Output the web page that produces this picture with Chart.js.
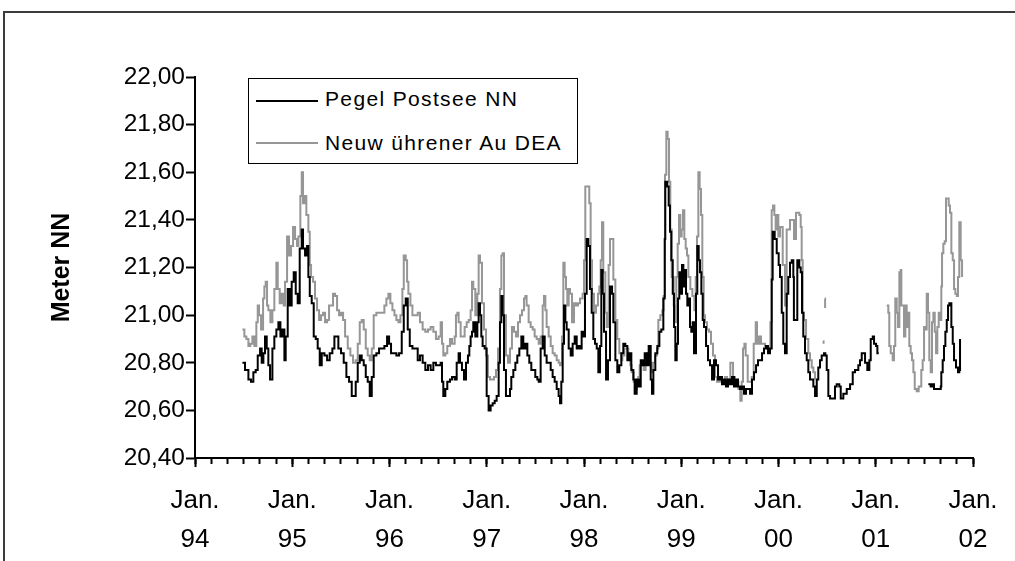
<!DOCTYPE html>
<html>
<head>
<meta charset="utf-8">
<script src="https://cdn.jsdelivr.net/npm/chart.js@4.4.1/dist/chart.umd.min.js"></script>
<style>
  html, body { margin: 0; padding: 0; background: #fff; }
  #wrap { position: relative; width: 1015px; height: 561px; overflow: hidden; background: #fff; }
  #frame { position: absolute; left: 3px; top: 11px; width: 1100px; height: 700px;
           border-top: 2px solid #3c3c3c; border-left: 2px solid #3c3c3c; }
  #c { position: absolute; left: 0; top: 0; }
  #legend { position: absolute; left: 248px; top: 78px; width: 330px; height: 86px;
            box-sizing: border-box; border: 1px solid #000; background: #fff;
            font-family: "Liberation Sans", Arial, sans-serif; font-size: 21px; color: #000; }
  .lline { position: absolute; left: 7px; width: 62px; height: 2px; }
  .ltext { position: absolute; left: 76px; line-height: 24px; white-space: pre; letter-spacing: 1.35px; }
</style>
</head>
<body>
<div id="wrap">
  <div id="frame"></div>
  <canvas id="c" width="1015" height="561"></canvas>
  <div id="legend">
    <div class="lline" style="top:20.7px;background:#000"></div>
    <div class="ltext" style="top:8.4px">Pegel Postsee NN</div>
    <div class="lline" style="top:63.3px;background:#969696"></div>
    <div class="ltext" style="top:51.7px">Neuw ührener Au DEA</div>
  </div>
</div>
<script>
// x values: months since January 1994; y values: water level in metres NN
const seriesNames = ['Pegel Postsee NN', 'Neuw ührener Au DEA'];
const yearLabels = ['94', '95', '96', '97', '98', '99', '00', '01', '02'];
const yTicks = [20.40, 20.60, 20.80, 21.00, 21.20, 21.40, 21.60, 21.80, 22.00];

const pegelMonths = [
  5.85,6.17,6.59,6.91,7.20,7.49,7.74,8.03,8.23,8.44,8.64,8.85,9.05,9.26,9.55,9.79,10.04,10.29,10.54,10.78,
  11.03,11.19,11.44,11.69,11.93,12.18,12.43,12.67,12.92,13.17,13.33,13.58,13.83,13.99,14.16,14.40,14.65,14.90,15.14,15.39,
  15.64,15.97,16.30,16.62,16.95,17.20,17.45,17.69,18.02,18.35,18.68,19.01,19.34,19.59,19.83,20.08,20.33,20.57,20.82,21.07,
  21.31,21.56,21.81,22.05,22.38,22.71,23.04,23.37,23.70,23.95,24.19,24.52,24.85,25.18,25.51,25.76,26.00,26.25,26.50,26.83,
  27.16,27.48,
  27.76,28.09,28.42,28.75,29.08,29.41,29.73,30.06,30.31,30.48,30.64,30.89,31.13,31.46,31.71,32.04,32.29,32.53,32.70,32.94,
  33.19,33.44,33.68,33.85,34.01,34.18,34.34,34.59,34.84,35.00,35.17,35.33,35.49,35.74,35.99,36.23,36.48,36.73,36.98,37.22,
  37.47,37.63,37.80,37.96,38.13,38.37,38.62,38.87,39.03,39.28,39.53,39.77,40.02,40.27,40.51,40.76,41.01,41.25,41.50,41.75,
  41.99,42.24,42.41,42.65,42.90,43.15,43.39,43.64,43.89,44.13,44.38,44.63,44.87,45.04,45.20,45.37,45.53,45.70,45.86,46.11,
  46.36,46.60,46.85,47.10,47.34,
  47.51,47.71,47.91,48.12,48.33,48.53,48.74,48.95,49.15,49.36,49.57,49.77,49.98,50.14,50.31,50.47,50.72,50.96,51.21,51.46,
  51.62,51.87,52.11,52.36,52.61,52.85,53.10,53.35,53.59,53.84,54.09,54.25,54.50,54.75,55.00,55.24,55.49,55.74,55.98,56.23,
  56.39,56.56,56.80,57.05,57.30,57.54,57.79,57.96,58.03,58.28,58.45,58.61,58.77,58.95,59.11,59.27,59.44,59.60,59.76,59.93,
  60.09,60.26,60.43,60.59,60.75,60.92,61.08,61.24,61.41,61.57,61.82,61.98,62.15,62.31,62.48,62.65,62.81,63.06,63.30,63.55,
  63.80,64.04,64.29,64.54,64.78,65.03,65.28,65.52,65.77,66.02,66.26,66.51,66.76,67.00,67.25,67.50,67.74,67.99,68.24,68.49,
  68.73,68.98,69.23,69.47,69.72,69.97,70.21,70.46,70.71,70.95,71.16,71.28,71.53,71.78,72.02,
  72.19,72.40,72.59,72.80,73.01,73.21,73.42,73.63,73.83,73.90,74.16,74.32,74.57,74.74,74.90,75.06,75.27,75.48,75.68,75.89,
  76.10,76.30,76.51,76.72,76.91,77.12,77.33,77.62,77.78,77.95,78.15,78.36,78.80,78.97,79.18,79.50,79.68,80.00,80.42,80.83,
  81.16,81.44,81.85,82.06,82.27,82.47,82.68,82.96,83.21,83.38,83.63,83.79,84.04,84.20,84.37,84.40,
  90.49,90.78,91.03,91.19,91.52,91.84,92.02,92.09,92.26,92.42,92.59,92.76,92.92,93.08,93.25,93.33,93.50,93.66,93.90,94.15,
  94.31,94.40
];
const pegelLevels = [
  20.80,20.77,20.73,20.72,20.76,20.77,20.83,20.86,20.80,20.84,20.91,20.86,20.79,20.73,20.86,20.91,20.94,20.97,20.91,20.94,
  20.81,20.91,21.11,21.04,21.14,21.18,21.09,21.05,21.28,21.36,21.28,21.25,21.29,21.16,21.08,21.05,20.91,20.90,20.86,20.79,
  20.84,20.83,20.81,20.84,20.86,20.91,20.91,20.86,20.84,20.80,20.74,20.72,20.66,20.66,20.72,20.80,20.83,20.81,20.79,20.74,
  20.72,20.66,20.74,20.83,20.84,20.86,20.86,20.87,20.91,20.88,20.84,20.84,20.83,20.84,20.93,21.04,21.07,20.94,20.87,20.86,
  20.86,20.81,
  20.83,20.80,20.77,20.79,20.77,20.80,20.79,20.79,20.80,20.72,20.66,20.69,20.72,20.73,20.74,20.73,20.80,20.84,20.80,20.77,
  20.73,20.80,20.83,20.87,20.91,20.93,20.97,20.91,20.97,21.05,21.00,20.91,20.87,20.86,20.66,20.60,20.62,20.63,20.64,20.66,
  20.80,20.97,21.08,21.00,20.77,20.66,20.66,20.69,20.74,20.77,20.80,20.83,20.86,20.91,20.86,20.88,20.83,20.80,20.77,20.77,
  20.74,20.73,20.72,20.86,20.91,20.83,20.80,20.80,20.77,20.74,20.72,20.69,20.66,20.63,20.72,20.88,21.04,20.97,20.94,20.86,
  20.83,20.88,20.91,20.86,20.87,
  20.86,20.93,20.91,21.09,21.32,21.29,21.11,21.01,20.90,20.88,20.86,20.76,20.87,21.19,21.09,20.93,20.73,20.81,21.12,21.09,
  20.97,20.81,20.76,20.79,20.84,20.88,20.87,20.81,20.84,20.77,20.73,20.67,20.73,20.70,20.81,20.79,20.84,20.79,20.87,20.73,
  20.67,20.77,20.84,20.87,20.93,20.94,21.07,21.32,21.56,21.54,21.46,21.35,21.23,21.09,20.95,20.81,20.88,21.07,21.18,21.09,
  21.21,21.12,21.19,21.09,21.04,21.07,20.95,20.93,20.97,20.84,21.09,21.29,21.23,21.18,21.09,20.98,20.95,20.87,20.81,20.79,
  20.73,20.81,20.79,20.73,20.74,20.71,20.73,20.70,20.73,20.71,20.74,20.70,20.73,20.70,20.69,20.70,20.67,20.69,20.69,20.67,
  20.73,20.76,20.79,20.81,20.81,20.84,20.86,20.87,20.84,20.86,21.15,21.35,21.32,21.26,21.21,
  21.16,21.01,20.88,20.84,21.09,21.16,21.22,21.23,21.16,20.98,20.98,21.23,21.20,21.18,21.01,20.91,20.84,20.81,20.76,20.73,
  20.73,20.70,20.66,20.73,20.78,20.81,20.83,20.84,20.83,20.77,20.66,20.65,20.65,20.70,20.71,20.70,20.65,20.67,20.69,20.71,
  20.76,20.77,20.79,20.81,20.84,20.84,20.80,20.77,20.81,20.90,20.91,20.88,20.87,20.84,20.84,null,
  20.71,20.70,20.71,20.69,20.69,20.69,20.70,20.76,20.81,20.87,20.93,20.98,21.04,21.05,21.05,20.95,20.88,20.81,20.78,20.76,
  20.77,20.90
];

const neuwMonths = [
  5.85,6.09,6.34,6.59,6.83,7.08,7.33,7.57,7.74,7.90,8.15,8.40,8.56,8.72,8.89,9.05,9.30,9.55,9.79,10.04,
  10.21,10.45,10.70,10.95,11.11,11.36,11.60,11.85,12.10,12.35,12.59,12.76,13.00,13.17,13.33,13.58,13.74,13.99,14.16,14.32,
  14.57,14.81,15.06,15.31,15.55,15.80,16.05,16.30,16.54,16.79,17.03,17.28,17.53,17.78,18.02,18.27,18.52,18.85,19.17,19.50,
  19.83,20.08,20.33,20.57,20.82,21.07,21.31,21.56,21.81,22.05,22.38,22.71,23.04,23.37,23.62,23.86,24.11,24.36,24.61,24.85,
  25.10,25.35,25.59,25.76,26.00,26.17,26.33,26.58,26.83,27.16,27.48,
  27.76,28.09,28.42,28.75,29.08,29.41,29.73,30.06,30.31,30.48,30.64,30.89,31.13,31.46,31.71,32.04,32.20,32.37,32.53,32.78,
  33.03,33.27,33.52,33.77,34.01,34.18,34.34,34.59,34.84,35.00,35.17,35.41,35.66,35.91,36.15,36.40,36.65,36.89,37.14,37.39,
  37.63,37.80,37.96,38.13,38.37,38.62,38.87,39.11,39.36,39.61,39.86,40.10,40.35,40.60,40.76,40.92,41.17,41.42,41.67,41.91,
  42.16,42.41,42.65,42.90,43.06,43.23,43.39,43.64,43.89,44.13,44.38,44.63,44.87,45.04,45.29,45.45,45.61,45.78,45.94,46.11,
  46.27,46.52,46.77,47.01,47.26,
  47.51,47.83,48.00,48.16,48.49,48.65,48.82,48.99,49.23,49.48,49.72,49.89,50.06,50.22,50.38,50.63,50.80,51.04,51.21,51.46,
  51.62,51.87,52.11,52.36,52.61,
  52.73,52.98,53.22,53.47,53.72,53.88,54.13,54.29,54.54,54.70,54.87,55.12,55.36,55.61,55.77,56.02,56.27,56.51,56.76,57.01,
  57.17,57.42,57.67,57.83,57.99,58.16,58.32,58.49,58.65,58.82,59.07,59.23,59.39,59.56,59.72,59.89,60.05,60.22,60.38,60.55,
  60.71,60.88,61.12,61.37,61.62,61.78,61.94,62.11,62.27,62.44,62.60,62.77,62.93,63.18,63.43,63.67,63.92,64.17,64.41,64.66,
  64.91,65.15,65.40,65.65,65.89,66.06,66.22,66.39,66.63,66.88,67.05,67.29,67.46,67.62,67.79,67.95,68.20,68.45,68.69,68.94,
  69.19,69.35,69.60,69.84,70.09,70.34,70.58,70.83,71.00,71.16,71.33,71.49,71.65,71.82,71.98,
  72.19,72.52,72.80,73.01,73.42,73.75,73.91,74.16,74.57,74.74,74.86,74.99,75.15,75.40,75.68,75.89,76.10,76.30,76.51,76.60,
  77.50,77.56,77.60,77.72,77.75,77.80,
  85.35,85.55,85.67,85.85,86.09,86.25,86.41,86.59,86.75,86.91,87.08,87.16,87.33,87.49,87.65,87.82,87.98,88.14,88.31,88.47,
  88.64,88.81,89.05,89.30,89.46,89.62,89.79,89.96,90.12,90.29,90.45,90.61,90.78,90.94,91.11,91.28,91.44,91.60,91.77,91.93,
  92.09,92.18,92.34,92.51,92.67,92.83,93.00,93.16,93.33,93.50,93.66,93.82,94.00,94.15,94.31,94.48,94.65
];
const neuwLevels = [
  20.94,20.91,20.90,20.87,20.88,20.91,20.87,20.97,21.04,21.00,20.94,21.07,21.12,21.14,21.04,21.02,20.97,21.02,21.11,21.22,
  21.11,21.05,21.09,21.04,21.14,21.33,21.25,21.29,21.37,21.32,21.29,21.33,21.50,21.60,21.47,21.50,21.42,21.35,21.21,21.16,
  21.14,21.07,21.02,20.98,21.00,21.01,20.97,20.98,21.04,21.04,21.09,21.08,21.02,21.00,21.01,20.98,20.91,20.86,20.83,20.80,
  20.81,20.88,20.97,20.98,20.94,20.86,20.83,20.81,20.86,21.00,21.01,21.01,21.01,21.04,21.07,21.09,21.05,21.02,21.00,20.98,
  20.97,21.00,21.11,21.25,21.23,21.14,21.09,21.04,21.00,21.00,21.01,
  20.97,20.94,20.93,20.94,20.95,20.93,20.90,20.91,20.97,20.88,20.83,20.84,20.87,20.90,20.88,20.91,21.00,21.01,20.97,20.91,
  20.91,20.95,20.97,20.98,21.02,21.14,21.11,21.00,21.09,21.25,21.22,21.05,20.94,20.83,20.74,20.73,20.73,20.74,20.77,20.86,
  21.11,21.25,21.26,21.00,20.83,20.80,20.86,20.95,20.93,20.91,20.97,21.00,21.02,21.07,21.08,21.04,20.97,20.95,20.94,20.91,
  20.90,20.88,20.91,21.04,21.08,21.02,20.95,20.91,20.87,20.84,20.83,20.81,20.80,20.79,20.91,21.22,21.16,21.11,21.04,21.11,
  21.09,20.97,21.05,21.04,21.05,
  21.07,21.09,21.23,21.54,21.54,21.47,21.23,21.09,21.01,21.04,21.09,21.12,21.23,21.39,21.18,21.01,20.95,21.21,21.32,21.32,
  21.15,20.98,20.90,20.84,20.81,
  20.83,20.86,20.86,20.83,20.79,20.76,20.72,20.69,20.72,20.74,20.79,20.80,20.77,20.80,20.84,20.80,20.76,20.80,20.83,20.86,
  20.98,21.00,21.02,21.08,21.59,21.77,21.74,21.56,21.36,21.16,21.04,20.97,21.16,21.30,21.42,21.33,21.36,21.44,21.32,21.28,
  21.25,21.16,21.11,21.08,21.02,21.16,21.33,21.60,21.53,21.42,21.16,21.00,20.97,20.94,20.93,20.88,20.83,20.74,20.72,20.74,
  20.72,20.72,20.74,20.73,20.72,20.80,20.80,20.74,20.72,20.72,20.69,20.64,20.72,20.86,20.88,20.83,20.72,20.72,20.74,20.88,
  20.97,20.88,20.91,20.88,20.88,20.87,20.86,20.86,20.97,21.44,21.46,21.42,21.36,21.42,21.33,
  21.37,21.21,21.04,21.36,21.40,21.40,21.32,21.43,21.42,21.37,21.23,21.01,20.98,20.90,20.84,20.81,20.78,20.76,20.73,null,
  20.89,20.88,null,21.07,21.03,null,
  21.04,21.01,20.87,20.84,20.81,20.87,21.07,21.01,20.95,21.18,21.19,21.04,21.04,20.91,21.04,20.95,21.01,20.87,20.84,20.81,
  20.76,20.69,20.68,20.70,20.70,20.77,20.81,20.95,20.94,21.09,21.01,20.81,20.76,20.97,21.01,20.93,20.84,20.95,21.01,20.98,
  21.12,21.26,21.30,21.31,21.49,21.49,21.46,21.43,21.26,21.23,21.11,21.09,21.08,21.16,21.39,21.23,21.16
];

const FONT = '"Liberation Sans", Arial, Helvetica, sans-serif';
const toPoints = (xs, ys) => xs.map((x, i) => ({ x: x, y: ys[i] }));

new Chart(document.getElementById('c'), {
  type: 'line',
  data: {
    datasets: [
      { label: seriesNames[0], data: toPoints(pegelMonths, pegelLevels),
        borderColor: '#000000', borderWidth: 2, pointRadius: 0, stepped: true, spanGaps: false, fill: false },
      { label: seriesNames[1], data: toPoints(neuwMonths, neuwLevels),
        borderColor: '#969696', borderWidth: 2, pointRadius: 0, stepped: true, spanGaps: false, fill: false }
    ]
  },
  options: {
    responsive: false,
    animation: false,
    devicePixelRatio: 1,
    layout: { padding: { left: 30, right: 42, top: 77, bottom: 0 } },
    plugins: { legend: { display: false }, tooltip: { enabled: false } },
    scales: {
      x: {
        type: 'linear', min: 0, max: 96, position: 'bottom',
        afterFit: s => { s.height = 103; },
        ticks: {
          stepSize: 12, autoSkip: false, maxRotation: 0, padding: 14, color: '#000',
          font: { family: FONT, size: 26, lineHeight: 1.52 },
          callback: v => (v % 12 === 0 ? ['Jan.', yearLabels[v / 12]] : null)
        },
        grid: { drawOnChartArea: false, drawTicks: true, tickLength: 9, tickWidth: 2, tickColor: '#000' },
        border: { display: true, color: '#000', width: 2 }
      },
      xMinor: {
        type: 'linear', min: 0, max: 96, position: { y: 20.4 }, axis: 'x',
        ticks: { stepSize: 2, display: false, autoSkip: false },
        grid: { drawOnChartArea: false, drawTicks: true, tickLength: 6, tickWidth: 2, tickColor: '#000' },
        border: { display: false }
      },
      y: {
        type: 'linear', min: 20.4, max: 22.0, position: 'left',
        afterFit: s => { s.width = 165; },
        afterBuildTicks: s => { s.ticks = yTicks.map(v => ({ value: v })); },
        ticks: {
          padding: 1, color: '#000',
          font: { family: FONT, size: 24.5 },
          callback: v => Number(v).toFixed(2).replace('.', ',')
        },
        grid: { drawOnChartArea: false, drawTicks: true, tickLength: 9, tickWidth: 2, tickColor: '#000' },
        border: { display: true, color: '#000', width: 2 },
        title: { display: true, text: 'Meter NN', color: '#000',
                 font: { family: FONT, size: 25, weight: 'bold' }, padding: { top: 17, bottom: 0 } }
      }
    }
  }
});
</script>
</body>
</html>
